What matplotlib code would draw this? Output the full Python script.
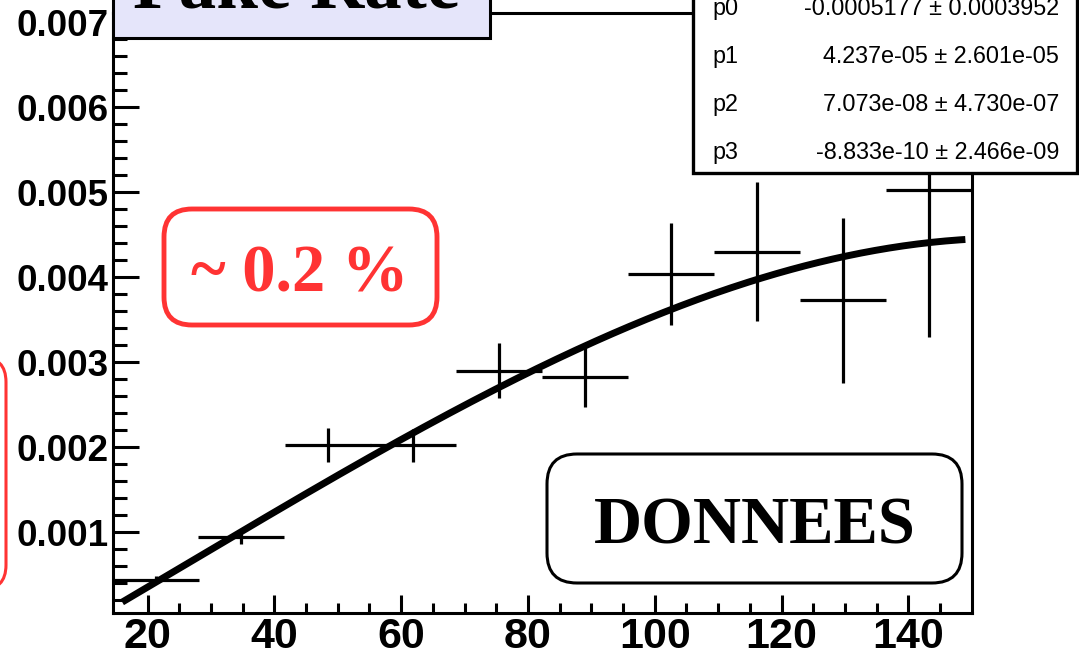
import matplotlib.pyplot as plt
import numpy as np
from matplotlib.patches import FancyBboxPatch

# Fake rate per bin, with bin half-width and statistical error
bin_centers = [21.3, 34.8, 48.4, 61.9, 75.5, 89.0, 102.6, 116.1, 129.7, 143.2]
bin_half = 6.77
fake_rate = [0.00044, 0.000945, 0.00203, 0.00202, 0.00290,
             0.00283, 0.00404, 0.00430, 0.00373, 0.00503]
rate_err = [0.00004, 0.00009, 0.00020, 0.00019, 0.00032,
            0.00036, 0.00060, 0.00082, 0.00097, 0.00174]

# Third order polynomial fit (pol3)
par_names = ['p0', 'p1', 'p2', 'p3']
par_values = [-0.0005177, 4.237e-05, 7.073e-08, -8.833e-10]
par_labels = ['-0.0005177 \u00b1 0.0003952', '4.237e-05 \u00b1 2.601e-05',
              '7.073e-08 \u00b1 4.730e-07', '-8.833e-10 \u00b1 2.466e-09']

W, H = 1079, 655
fig = plt.figure(figsize=(W / 100, H / 100), dpi=100)
ax = fig.add_axes([112.7 / W, 1 - 612.7 / H, (971.7 - 112.7) / W, (612.7 - 13) / H])

ax.errorbar(bin_centers, fake_rate, xerr=bin_half, yerr=rate_err, fmt='none',
            ecolor='black', elinewidth=2.3, capsize=0, zorder=3)

xf = np.linspace(16, 149, 300)
yf = sum(p * xf**i for i, p in enumerate(par_values))
ax.plot(xf, yf, color='black', lw=5, solid_capstyle='butt', zorder=4)

ax.set_xlim(14.5, 150)
ax.set_ylim(0.00005, 0.00711)
ax.set_xticks([20, 40, 60, 80, 100, 120, 140])
ax.set_xticks(np.arange(25, 150, 5), minor=True)
ax.set_yticks([0.001, 0.002, 0.003, 0.004, 0.005, 0.006, 0.007])
ax.set_yticks(np.arange(0.0002, 0.0071, 0.0002), minor=True)
ax.set_yticklabels(['0.001', '0.002', '0.003', '0.004', '0.005', '0.006', '0.007'])

for s in ax.spines.values():
    s.set_linewidth(2.2)
ax.tick_params(axis='both', which='both', direction='in', width=2.2,
               top=False, right=False)
ax.tick_params(axis='x', which='major', length=13, pad=3)
ax.tick_params(axis='x', which='minor', length=7)
ax.tick_params(axis='y', which='major', length=18.5, pad=3)
ax.tick_params(axis='y', which='minor', length=10)
for lab in ax.get_xticklabels():
    lab.set_fontfamily('Liberation Sans')
    lab.set_fontweight('bold')
    lab.set_fontsize(31)
for lab in ax.get_yticklabels():
    lab.set_fontfamily('Liberation Sans')
    lab.set_fontweight('bold')
    lab.set_fontsize(26.5)

tr = fig.dpi_scale_trans


def box(x0, y0, x1, y1, fc, ec, lw, rounded=0.0, z=5):
    # pixel box (top-left origin) drawn in inches
    style = 'round,pad=0,rounding_size=%g' % rounded if rounded else 'square,pad=0'
    p = FancyBboxPatch((x0 / 100, (H - y1) / 100), (x1 - x0) / 100, (y1 - y0) / 100,
                       boxstyle=style, fc=fc, ec=ec, lw=lw, transform=tr, zorder=z)
    fig.add_artist(p)


def label(x, y, s, **kw):
    fig.text(x / 100, (H - y) / 100, s, transform=tr, **kw)


# title pave
box(113, -80, 490, 38, '#e5e5fa', 'black', 2.2)
label(297, 7, 'Fake Rate', ha='center', va='baseline', fontsize=54,
      fontweight='bold', family='Liberation Serif', zorder=6)

# fit statistics pave
box(693, -60, 1077, 173, 'white', 'black', 2.4)
for i, (n, v) in enumerate(zip(par_names, par_labels)):
    yb = 15 + 48 * i
    label(712, yb, n, ha='left', va='baseline', fontsize=16.8,
          family='Liberation Sans', zorder=6)
    label(1059, yb, v, ha='right', va='baseline', fontsize=16.8,
          family='Liberation Sans', zorder=6)

# annotations
red = '#ff3333'
box(164, 209, 437, 325, 'white', red, 3.5, rounded=0.28)
label(300, 291, '~ 0.2 %', ha='center', va='baseline', fontsize=48,
      fontweight='bold', family='Liberation Serif', color=red, zorder=6)
box(-120, 357, 6, 590, 'white', red, 2.2, rounded=0.25)

box(547, 454, 962, 583, 'white', 'black', 2.2, rounded=0.3)
label(755, 543, 'DONNEES', ha='center', va='baseline', fontsize=48,
      fontweight='bold', family='Liberation Serif', zorder=6)

fig.savefig('out.png', dpi=100)
